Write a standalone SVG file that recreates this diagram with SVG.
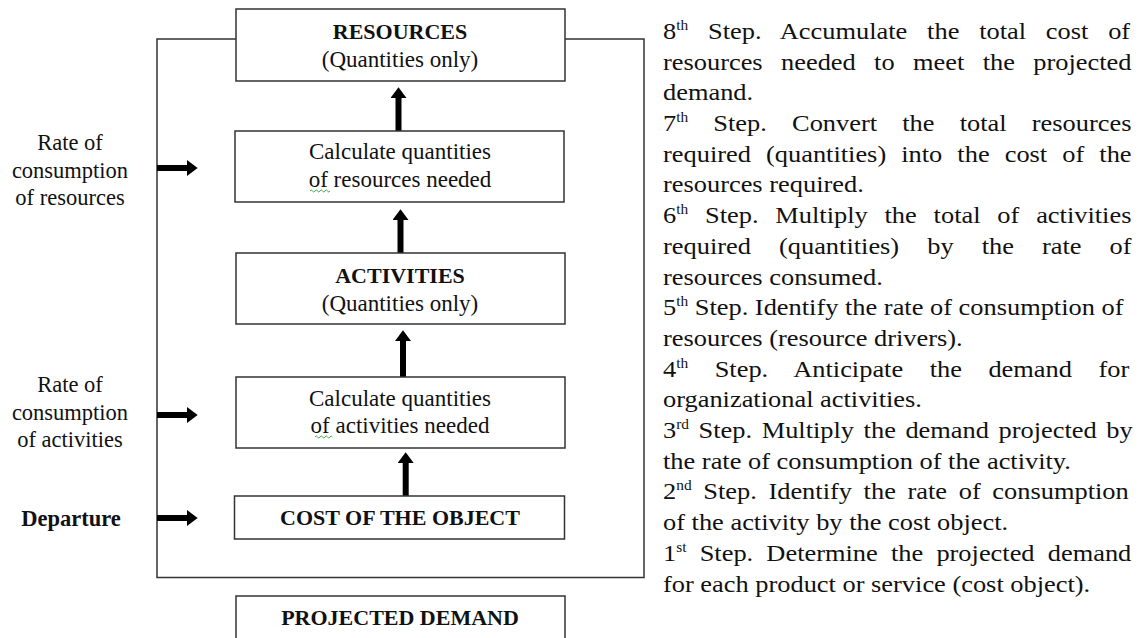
<svg xmlns="http://www.w3.org/2000/svg" width="1140" height="638" viewBox="0 0 1140 638">
<style>
.box{fill:#fff;stroke:#333;stroke-width:1.5}
.frame{fill:none;stroke:#333;stroke-width:1.5}
.t{font-family:"Liberation Serif","Times New Roman",serif;fill:#111}
.bt{font-size:23px;text-anchor:middle}
.bb{font-size:22px;font-weight:bold;text-anchor:middle}
.lb{font-size:22.5px;text-anchor:middle}
.rt{font-size:24px}
.sup{font-size:14px}
.arr{stroke:#000;stroke-width:6;fill:none;marker-end:url(#ah)}
.wavy{fill:none;stroke:#4a4;stroke-width:1}
</style>
<defs>
<marker id="ah" markerUnits="userSpaceOnUse" markerWidth="12" markerHeight="16" refX="0" refY="7.5" orient="auto" viewBox="0 0 10 15">
<path d="M0,0 L10,7.5 L0,15 Z" fill="#000"/>
</marker>
</defs>
<rect class="frame" x="157" y="39" width="487" height="538.5"/>
<g id="connectors">
<line class="arr" x1="398.5" y1="131" x2="398.5" y2="98"/>
<line class="arr" x1="400.5" y1="253" x2="400.5" y2="220"/>
<line class="arr" x1="403" y1="377" x2="403" y2="341"/>
<line class="arr" x1="405.7" y1="496" x2="405.7" y2="463"/>
<line class="arr" x1="157" y1="168" x2="187" y2="168"/>
<line class="arr" x1="157" y1="415" x2="187" y2="415"/>
<line class="arr" x1="157" y1="518" x2="187" y2="518"/>
</g>
<g id="resources">
<rect class="box" x="236" y="9" width="329" height="72"/>
<text class="t bb" x="400" y="39">RESOURCES</text>
<text class="t bt" x="400" y="67">(Quantities only)</text>
</g>
<g id="calc-resources">
<rect class="box" x="235" y="131" width="329" height="71"/>
<text class="t bt" x="400" y="159">Calculate quantities</text>
<text class="t bt" x="400" y="187">of resources needed</text>
<path class="wavy" d="M310,191 q1.25,-2 2.5,0 t2.5,0 t2.5,0 t2.5,0 t2.5,0 t2.5,0 t2.5,0 t2.5,0"/>
</g>
<g id="activities">
<rect class="box" x="236" y="253" width="329" height="71"/>
<text class="t bb" x="400" y="283">ACTIVITIES</text>
<text class="t bt" x="400" y="311">(Quantities only)</text>
</g>
<g id="calc-activities">
<rect class="box" x="236" y="377" width="329" height="71"/>
<text class="t bt" x="400" y="406">Calculate quantities</text>
<text class="t bt" x="400" y="433">of activities needed</text>
<path class="wavy" d="M315,437 q1.25,-2 2.5,0 t2.5,0 t2.5,0 t2.5,0 t2.5,0 t2.5,0 t2.5,0"/>
</g>
<g id="cost-object">
<rect class="box" x="234.5" y="496" width="330" height="43"/>
<text class="t bb" x="400" y="525">COST OF THE OBJECT</text>
</g>
<g id="projected-demand">
<rect class="box" x="236" y="596" width="329" height="60"/>
<text class="t bb" x="400" y="625">PROJECTED DEMAND</text>
</g>
<g id="label-resources">
<text class="t lb" x="70" y="150">Rate of</text>
<text class="t lb" x="70" y="178">consumption</text>
<text class="t lb" x="70" y="205">of resources</text>
</g>
<g id="label-activities">
<text class="t lb" x="70" y="392">Rate of</text>
<text class="t lb" x="70" y="420">consumption</text>
<text class="t lb" x="70" y="447">of activities</text>
</g>
<g id="label-departure">
<text class="t lb" x="71" y="526" font-weight="bold">Departure</text>
</g>
<g id="steps" transform="translate(663,0) scale(1.1,1)">
<text class="t rt" x="0" y="39" word-spacing="12">8<tspan class="sup" dy="-9">th</tspan><tspan dy="9"> Step. Accumulate the total cost of</tspan></text>
<text class="t rt" x="0" y="69.7" word-spacing="10.7">resources needed to meet the projected</text>
<text class="t rt" x="0" y="100.4">demand.</text>
<text class="t rt" x="0" y="131.1" word-spacing="16.9">7<tspan class="sup" dy="-9">th</tspan><tspan dy="9"> Step. Convert the total resources</tspan></text>
<text class="t rt" x="0" y="161.8" word-spacing="7.7">required (quantities) into the cost of the</text>
<text class="t rt" x="0" y="192.5">resources required.</text>
<text class="t rt" x="0" y="223.2" word-spacing="9.3">6<tspan class="sup" dy="-9">th</tspan><tspan dy="9"> Step. Multiply the total of activities</tspan></text>
<text class="t rt" x="0" y="253.9" word-spacing="19.5">required (quantities) by the rate of</text>
<text class="t rt" x="0" y="284.6">resources consumed.</text>
<text class="t rt" x="0" y="315.3">5<tspan class="sup" dy="-9">th</tspan><tspan dy="9"> Step. Identify the rate of consumption of</tspan></text>
<text class="t rt" x="0" y="346">resources (resource drivers).</text>
<text class="t rt" x="0" y="376.7" word-spacing="18.1">4<tspan class="sup" dy="-9">th</tspan><tspan dy="9"> Step. Anticipate the demand for</tspan></text>
<text class="t rt" x="0" y="407.4">organizational activities.</text>
<text class="t rt" x="0" y="438.1" word-spacing="2.7">3<tspan class="sup" dy="-9">rd</tspan><tspan dy="9"> Step. Multiply the demand projected by</tspan></text>
<text class="t rt" x="0" y="468.8">the rate of consumption of the activity.</text>
<text class="t rt" x="0" y="499.5" word-spacing="4.6">2<tspan class="sup" dy="-9">nd</tspan><tspan dy="9"> Step. Identify the rate of consumption</tspan></text>
<text class="t rt" x="0" y="530.2">of the activity by the cost object.</text>
<text class="t rt" x="0" y="560.9" word-spacing="6">1<tspan class="sup" dy="-9">st</tspan><tspan dy="9"> Step. Determine the projected demand</tspan></text>
<text class="t rt" x="0" y="591.6">for each product or service (cost object).</text>
</g>
</svg>
